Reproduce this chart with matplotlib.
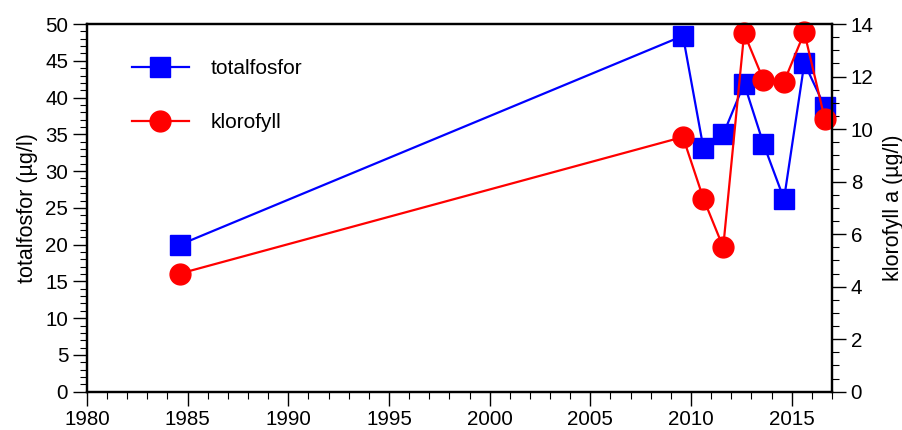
import matplotlib.pyplot as plt
from matplotlib.ticker import MultipleLocator

plt.rcParams['font.family'] = ['Liberation Sans', 'DejaVu Sans']

# sampling dates (decimal years) and measured values
years = [1984.62, 2009.6, 2010.62, 2011.6, 2012.64, 2013.6, 2014.62, 2015.63, 2016.65]
totalfosfor = [20, 48.4, 33.1, 35.0, 41.9, 33.7, 26.2, 44.7, 38.7]
klorofyll = [4.5, 9.7, 7.35, 5.5, 13.65, 11.87, 11.8, 13.68, 10.37]

fig = plt.figure(figsize=(9.03, 4.30), dpi=100)
ax = fig.add_axes([0.0963, 0.089, 0.825, 0.855])
ax2 = ax.twinx()

l1, = ax.plot(years, totalfosfor, color='#0000ff', lw=1.6, marker='s', ms=14,
              mec='#0000ff', clip_on=False, label='totalfosfor')
l2, = ax2.plot(years, klorofyll, color='#ff0000', lw=1.6, marker='o', ms=15,
               mec='#ff0000', clip_on=False, label='klorofyll')

ax.set_xlim(1980, 2017)
ax.set_ylim(0, 50)
ax2.set_ylim(0, 14)

ax.xaxis.set_major_locator(MultipleLocator(5))
ax.xaxis.set_minor_locator(MultipleLocator(1))
ax.yaxis.set_major_locator(MultipleLocator(5))
ax.yaxis.set_minor_locator(MultipleLocator(1))
ax2.yaxis.set_major_locator(MultipleLocator(2))
ax2.yaxis.set_minor_locator(MultipleLocator(0.5))

for a in (ax, ax2):
    a.tick_params(which='major', direction='out', length=10, width=1,
                  labelsize=14.8, pad=3.5)
    a.tick_params(which='minor', direction='out', length=5, width=0.8)
    for s in a.spines.values():
        s.set_linewidth(1.6)
ax.tick_params(axis='x', pad=3)

ax.set_ylabel('totalfosfor (µg/l)', fontsize=15.5, labelpad=5)
ax2.set_ylabel('klorofyll a (µg/l)', fontsize=15.5, labelpad=7)

ax2.legend(handles=[l1, l2], loc='upper left', bbox_to_anchor=(0.06, 0.905),
           frameon=False, fontsize=15, handlelength=2.75, labelspacing=1.7,
           handletextpad=1.05, borderpad=0, borderaxespad=0, numpoints=1)

fig.savefig('out.png', dpi=100)
